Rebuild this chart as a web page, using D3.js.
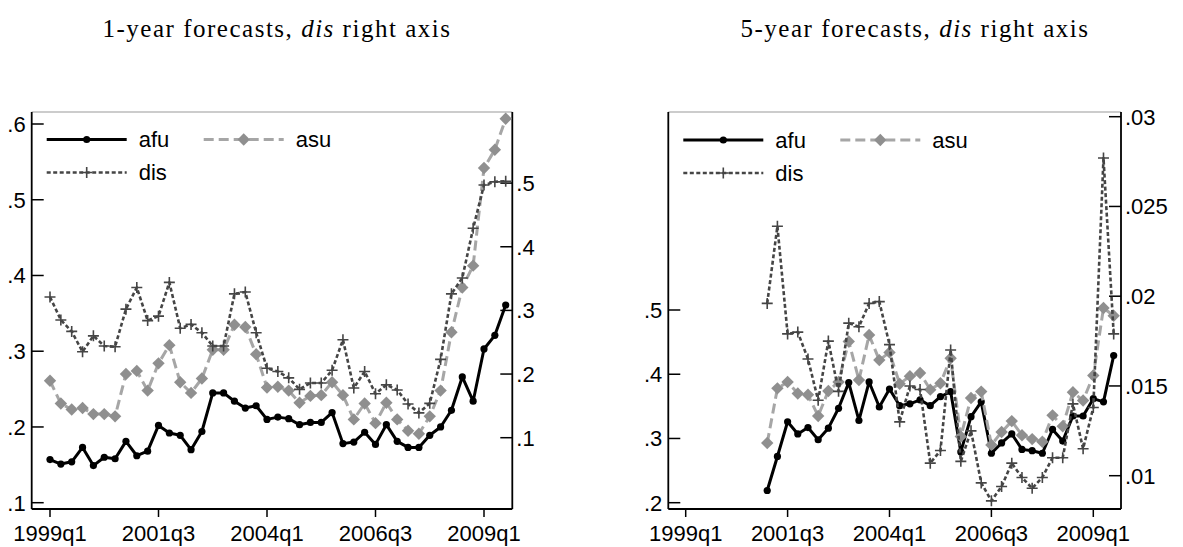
<!DOCTYPE html>
<html>
<head>
<meta charset="utf-8">
<script src="https://cdn.jsdelivr.net/npm/d3@7"></script>
<style>
  html, body { margin: 0; padding: 0; background: #fff; }
  svg { display: block; }
</style>
</head>
<body>
<svg id="chart" width="1183" height="547"></svg>
<script>
// ---------------- DATA ----------------
const quarters = ["1999q1","1999q2","1999q3","1999q4","2000q1","2000q2","2000q3","2000q4",
  "2001q1","2001q2","2001q3","2001q4","2002q1","2002q2","2002q3","2002q4",
  "2003q1","2003q2","2003q3","2003q4","2004q1","2004q2","2004q3","2004q4",
  "2005q1","2005q2","2005q3","2005q4","2006q1","2006q2","2006q3","2006q4",
  "2007q1","2007q2","2007q3","2007q4","2008q1","2008q2","2008q3","2008q4",
  "2009q1","2009q2","2009q3"];
const xTickLabels = ["1999q1","2001q3","2004q1","2006q3","2009q1"];

// 1-year forecasts (1999q1 - 2009q3)
const afu1 = [0.157,0.151,0.154,0.173,0.149,0.160,0.158,0.181,0.162,0.168,0.202,0.192,0.189,0.170,0.194,0.245,0.245,0.234,0.225,0.228,0.210,0.213,0.211,0.203,0.206,0.206,0.219,0.178,0.180,0.193,0.177,0.203,0.181,0.173,0.173,0.189,0.200,0.222,0.266,0.234,0.303,0.321,0.361];
const asu1 = [0.261,0.231,0.223,0.225,0.217,0.217,0.214,0.270,0.274,0.248,0.284,0.308,0.259,0.245,0.264,0.302,0.302,0.335,0.332,0.296,0.252,0.253,0.248,0.232,0.241,0.242,0.259,0.242,0.210,0.231,0.205,0.232,0.210,0.195,0.191,0.214,0.248,0.325,0.384,0.413,0.542,0.566,0.607];
const dis1 = [0.321,0.285,0.267,0.235,0.260,0.244,0.243,0.302,0.336,0.284,0.291,0.344,0.272,0.278,0.265,0.244,0.244,0.326,0.329,0.265,0.209,0.204,0.194,0.176,0.186,0.186,0.206,0.254,0.178,0.204,0.169,0.183,0.175,0.153,0.139,0.154,0.223,0.326,0.351,0.429,0.497,0.502,0.503];

// 5-year forecasts (2001q1 - 2009q3)
const start5 = "2001q1";
const afu5 = [0.219,0.272,0.326,0.307,0.317,0.298,0.316,0.347,0.387,0.328,0.388,0.349,0.377,0.351,0.354,0.360,0.351,0.365,0.373,0.279,0.334,0.357,0.277,0.293,0.307,0.283,0.281,0.277,0.314,0.296,0.335,0.335,0.362,0.357,0.429];
const asu5 = [0.293,0.378,0.388,0.370,0.368,0.335,0.374,0.388,0.451,0.391,0.461,0.422,0.434,0.385,0.397,0.402,0.376,0.386,0.425,0.303,0.363,0.373,0.290,0.310,0.327,0.305,0.299,0.295,0.336,0.319,0.372,0.359,0.398,0.503,0.491];
const dis5 = [0.0196,0.0239,0.0179,0.0180,0.0165,0.0142,0.0175,0.0147,0.0185,0.0183,0.0196,0.0197,0.0173,0.0130,0.0150,0.0148,0.0107,0.0114,0.0170,0.0108,0.0125,0.0096,0.0086,0.0094,0.0107,0.0099,0.0093,0.0099,0.0110,0.0110,0.0140,0.0115,0.0138,0.0277,0.0179];

const leftTicks1 = [0.1,0.2,0.3,0.4,0.5,0.6];
const rightTicks1 = [0.1,0.2,0.3,0.4,0.5];
const leftTicks5 = [0.2,0.3,0.4,0.5];
const rightTicks5 = [0.01,0.015,0.02,0.025,0.03];

const titles = ["1-year forecasts, ", "5-year forecasts, "];

// ---------------- STYLE ----------------
const FONT = "'Liberation Sans', Arial, sans-serif";
const FS = 22;
const styles = {
  afu: {stroke: "#000", width: 3, dash: null, marker: "circle", fill: "#000"},
  asu: {stroke: "#a6a6a6", width: 3, dash: "10,5", marker: "diamond", fill: "#8f8f8f"},
  dis: {stroke: "#454545", width: 2.6, dash: "4,2.5", marker: "plus", fill: "#454545"}
};

const svg = d3.select("#chart");
const fmt = v => { let s = String(+v.toFixed(4)); return s.replace(/^0\./, "."); };

function drawMarker(g, type, x, y, st) {
  if (type === "circle") {
    g.append("circle").attr("cx", x).attr("cy", y).attr("r", 3.6).attr("fill", st.fill);
  } else if (type === "diamond") {
    const s = 6.2;
    g.append("path").attr("d", `M${x},${y-s}L${x+s},${y}L${x},${y+s}L${x-s},${y}Z`).attr("fill", st.fill);
  } else {
    const s = 5.5;
    g.append("path").attr("d", `M${x-s},${y}H${x+s}M${x},${y-s}V${y+s}`)
      .attr("stroke", st.fill).attr("stroke-width", 1.6).attr("fill", "none");
  }
}

function drawPanel(p) {
  const g = svg.append("g");
  const x = d3.scaleLinear().domain([0, 40]).range([p.x0, p.x40]);
  const yL = d3.scaleLinear().domain(p.leftDom).range(p.leftRange);
  const yR = d3.scaleLinear().domain(p.rightDom).range(p.rightRange);

  // title
  const t = g.append("text").attr("x", p.titleX).attr("y", 37)
    .attr("text-anchor", "middle")
    .style("font-family", "'Liberation Serif', 'DejaVu Serif', serif").style("font-size", "25px");
  t.append("tspan").text(p.title);
  t.append("tspan").style("font-style", "italic").text("dis");
  t.append("tspan").text(" right axis");
  const targetW = 349;
  const w = t.node().getComputedTextLength();
  const nch = t.text().length;
  if (w < targetW) t.style("letter-spacing", ((targetW - w) / nch).toFixed(2) + "px");

  // top border
  g.append("line").attr("x1", p.left).attr("x2", p.right).attr("y1", p.top).attr("y2", p.top)
    .attr("stroke", "#9a9a9a").attr("stroke-width", 1.2);

  // axes lines
  g.append("line").attr("x1", p.left).attr("x2", p.left).attr("y1", p.top).attr("y2", p.bottom)
    .attr("stroke", "#000").attr("stroke-width", 1.8);
  g.append("line").attr("x1", p.right).attr("x2", p.right).attr("y1", p.top).attr("y2", p.bottom)
    .attr("stroke", "#000").attr("stroke-width", 1.8);
  g.append("line").attr("x1", p.left).attr("x2", p.right).attr("y1", p.bottom).attr("y2", p.bottom)
    .attr("stroke", "#000").attr("stroke-width", 1.8);

  // left ticks (inward)
  p.leftTicks.forEach(v => {
    g.append("line").attr("x1", p.left).attr("x2", p.left + 12).attr("y1", yL(v)).attr("y2", yL(v))
      .attr("stroke", "#000").attr("stroke-width", 1.5);
    g.append("text").attr("x", p.left - 6).attr("y", yL(v)).attr("dy", "0.36em")
      .attr("text-anchor", "end").style("font-family", FONT).style("font-size", FS + "px").text(fmt(v));
  });
  // right ticks (inward)
  p.rightTicks.forEach(v => {
    g.append("line").attr("x1", p.right - 12).attr("x2", p.right).attr("y1", yR(v)).attr("y2", yR(v))
      .attr("stroke", "#000").attr("stroke-width", 1.5);
    g.append("text").attr("x", p.right + 4).attr("y", yR(v)).attr("dy", "0.36em")
      .attr("text-anchor", "start").style("font-family", FONT).style("font-size", FS + "px").text(fmt(v));
  });
  // x ticks
  xTickLabels.forEach(lbl => {
    const xi = x(quarters.indexOf(lbl));
    g.append("line").attr("x1", xi).attr("x2", xi).attr("y1", p.bottom).attr("y2", p.bottom + 8)
      .attr("stroke", "#000").attr("stroke-width", 1.5);
    g.append("text").attr("x", xi).attr("y", 541).attr("text-anchor", "middle")
      .style("font-family", FONT).style("font-size", FS + "px").text(lbl);
  });

  // series
  const off = quarters.indexOf(p.start);
  const series = [
    {key: "dis", vals: p.dis, y: yR},
    {key: "asu", vals: p.asu, y: yL},
    {key: "afu", vals: p.afu, y: yL}
  ];
  const order = ["afu", "asu", "dis"];
  order.forEach(k => {
    const s = series.find(d => d.key === k);
    const st = styles[k];
    const pts = s.vals.map((v, i) => [x(off + i), s.y(v)]);
    g.append("path").attr("d", d3.line()(pts)).attr("fill", "none")
      .attr("stroke", st.stroke).attr("stroke-width", st.width)
      .attr("stroke-dasharray", st.dash).attr("stroke-linejoin", "round");
    pts.forEach(pt => drawMarker(g, st.marker, pt[0], pt[1], st));
  });

  // legend
  const lx = p.left + 15;
  const legend = [
    {key: "afu", sx: lx, row: 0},
    {key: "asu", sx: lx + 157, row: 0},
    {key: "dis", sx: lx, row: 1}
  ];
  legend.forEach(l => {
    const st = styles[l.key];
    const ly = p.legendY + l.row * 33;
    g.append("line").attr("x1", l.sx).attr("x2", l.sx + 80).attr("y1", ly).attr("y2", ly)
      .attr("stroke", st.stroke).attr("stroke-width", st.width).attr("stroke-dasharray", st.dash);
    drawMarker(g, st.marker, l.sx + 40, ly, st);
    g.append("text").attr("x", l.sx + 92).attr("y", ly).attr("dy", "0.36em")
      .style("font-family", FONT).style("font-size", FS + "px").text(l.key);
  });
}

drawPanel({
  title: titles[0], titleX: 277,
  left: 31.7, right: 512.3, top: 112, bottom: 509,
  x0: 50, x40: 484,
  leftDom: [0.1, 0.6], leftRange: [502.7, 124],
  rightDom: [0.1, 0.5], rightRange: [437.7, 183.1],
  leftTicks: leftTicks1, rightTicks: rightTicks1,
  start: "1999q1", afu: afu1, asu: asu1, dis: dis1,
  legendY: 139.5
});
drawPanel({
  title: titles[1], titleX: 915,
  left: 668.3, right: 1121, top: 112, bottom: 509,
  x0: 685.7, x40: 1093.3,
  leftDom: [0.2, 0.5], leftRange: [502.7, 310],
  rightDom: [0.01, 0.03], rightRange: [475.7, 116.7],
  leftTicks: leftTicks5, rightTicks: rightTicks5,
  start: start5, afu: afu5, asu: asu5, dis: dis5,
  legendY: 140
});
</script>
</body>
</html>
